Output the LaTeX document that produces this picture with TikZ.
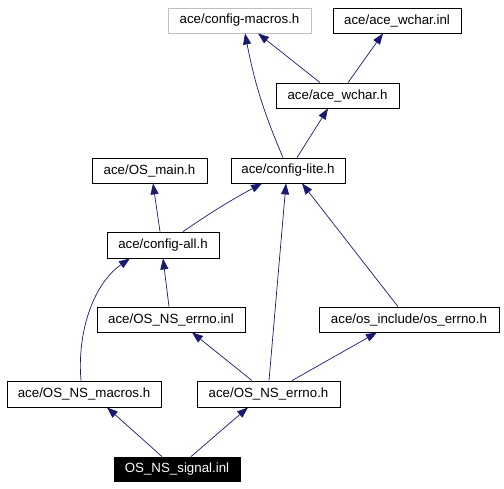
\documentclass[tikz,border=0pt]{standalone}
\usepackage{fontspec}
\setmainfont{Liberation Sans}
\usetikzlibrary{arrows.meta}
\definecolor{edgeblue}{HTML}{191970}
\definecolor{lightgray}{HTML}{BFBFBF}
\begin{document}
\begin{tikzpicture}[x=1pt,y=-1pt,
  box/.style={draw=black,fill=white,line width=0.8pt,inner sep=0pt,minimum height=25pt,font=\fontsize{13.3}{15}\selectfont},
  edge/.style={draw=edgeblue,line width=0.7pt,-{Triangle[length=11pt,width=8pt]},},
  ]
\useasboundingbox (0,0) rectangle (504,488);
\node[box,draw=lightgray,minimum width=143pt] (cm) at (239.5,20.5) {ace/config-macros.h};
\node[box,minimum width=128pt] (wi) at (397,20.5) {ace/ace\_wchar.inl};
\node[box,minimum width=123pt] (wh) at (337.5,95.5) {ace/ace\_wchar.h};
\node[box,minimum width=115pt] (om) at (149.5,170.5) {ace/OS\_main.h};
\node[box,minimum width=114pt] (cl) at (288,170.5) {ace/config-lite.h};
\node[box,minimum width=112pt,minimum height=26pt] (ca) at (163,245) {ace/config-all.h};
\node[box,minimum width=148pt] (ei) at (171,319.5) {ace/OS\_NS\_errno.inl};
\node[box,minimum width=180pt] (oe) at (409,319.5) {ace/os\_include/os\_errno.h};
\node[box,minimum width=154pt,minimum height=26pt] (nm) at (84,394) {ace/OS\_NS\_macros.h};
\node[box,minimum width=143pt,minimum height=26pt] (eh) at (268.5,394) {ace/OS\_NS\_errno.h};
\node[box,fill=black,text=white,minimum width=126pt,minimum height=24pt] (sg) at (177,469) {OS\_NS\_signal.inl};

\draw[edge] ([xshift=-15pt]sg.north) -- ([xshift=23pt]nm.south);
\draw[edge] ([xshift=14pt]sg.north) -- ([xshift=-20.5pt]eh.south);
\draw[edge] ([xshift=-16.5pt]eh.north) -- ([xshift=21pt]ei.south);
\draw[edge] ([xshift=23.5pt]eh.north) -- ([xshift=-32pt]oe.south);
\draw[edge] ([xshift=0.5pt]eh.north) -- ([xshift=-2pt]cl.south);
\draw[edge] ([xshift=-11pt]oe.north) -- ([xshift=14pt]cl.south);
\draw[edge] ([xshift=-2pt]ei.north) -- (ca.south);
\draw[edge] ([xshift=-3pt]nm.north) to[out=95,in=215,looseness=0.9] ([xshift=-33pt]ca.south);
\draw[edge] ([xshift=-5pt]cl.north) to[bend left=6] ([xshift=5.5pt]cm.south);
\draw[edge] ([xshift=-17.5pt]wh.north) -- ([xshift=18.5pt]cm.south);
\draw[edge] ([xshift=10.5pt]wh.north) -- ([xshift=-14pt]wi.south);
\draw[edge] ([xshift=9pt]cl.north) -- ([xshift=-9.5pt]wh.south);
\draw[edge] ([xshift=-3pt]ca.north) -- ([xshift=3.5pt]om.south);
\draw[edge] ([xshift=20pt]ca.north) to[bend left=3] ([xshift=-26pt]cl.south);
\end{tikzpicture}
\end{document}
